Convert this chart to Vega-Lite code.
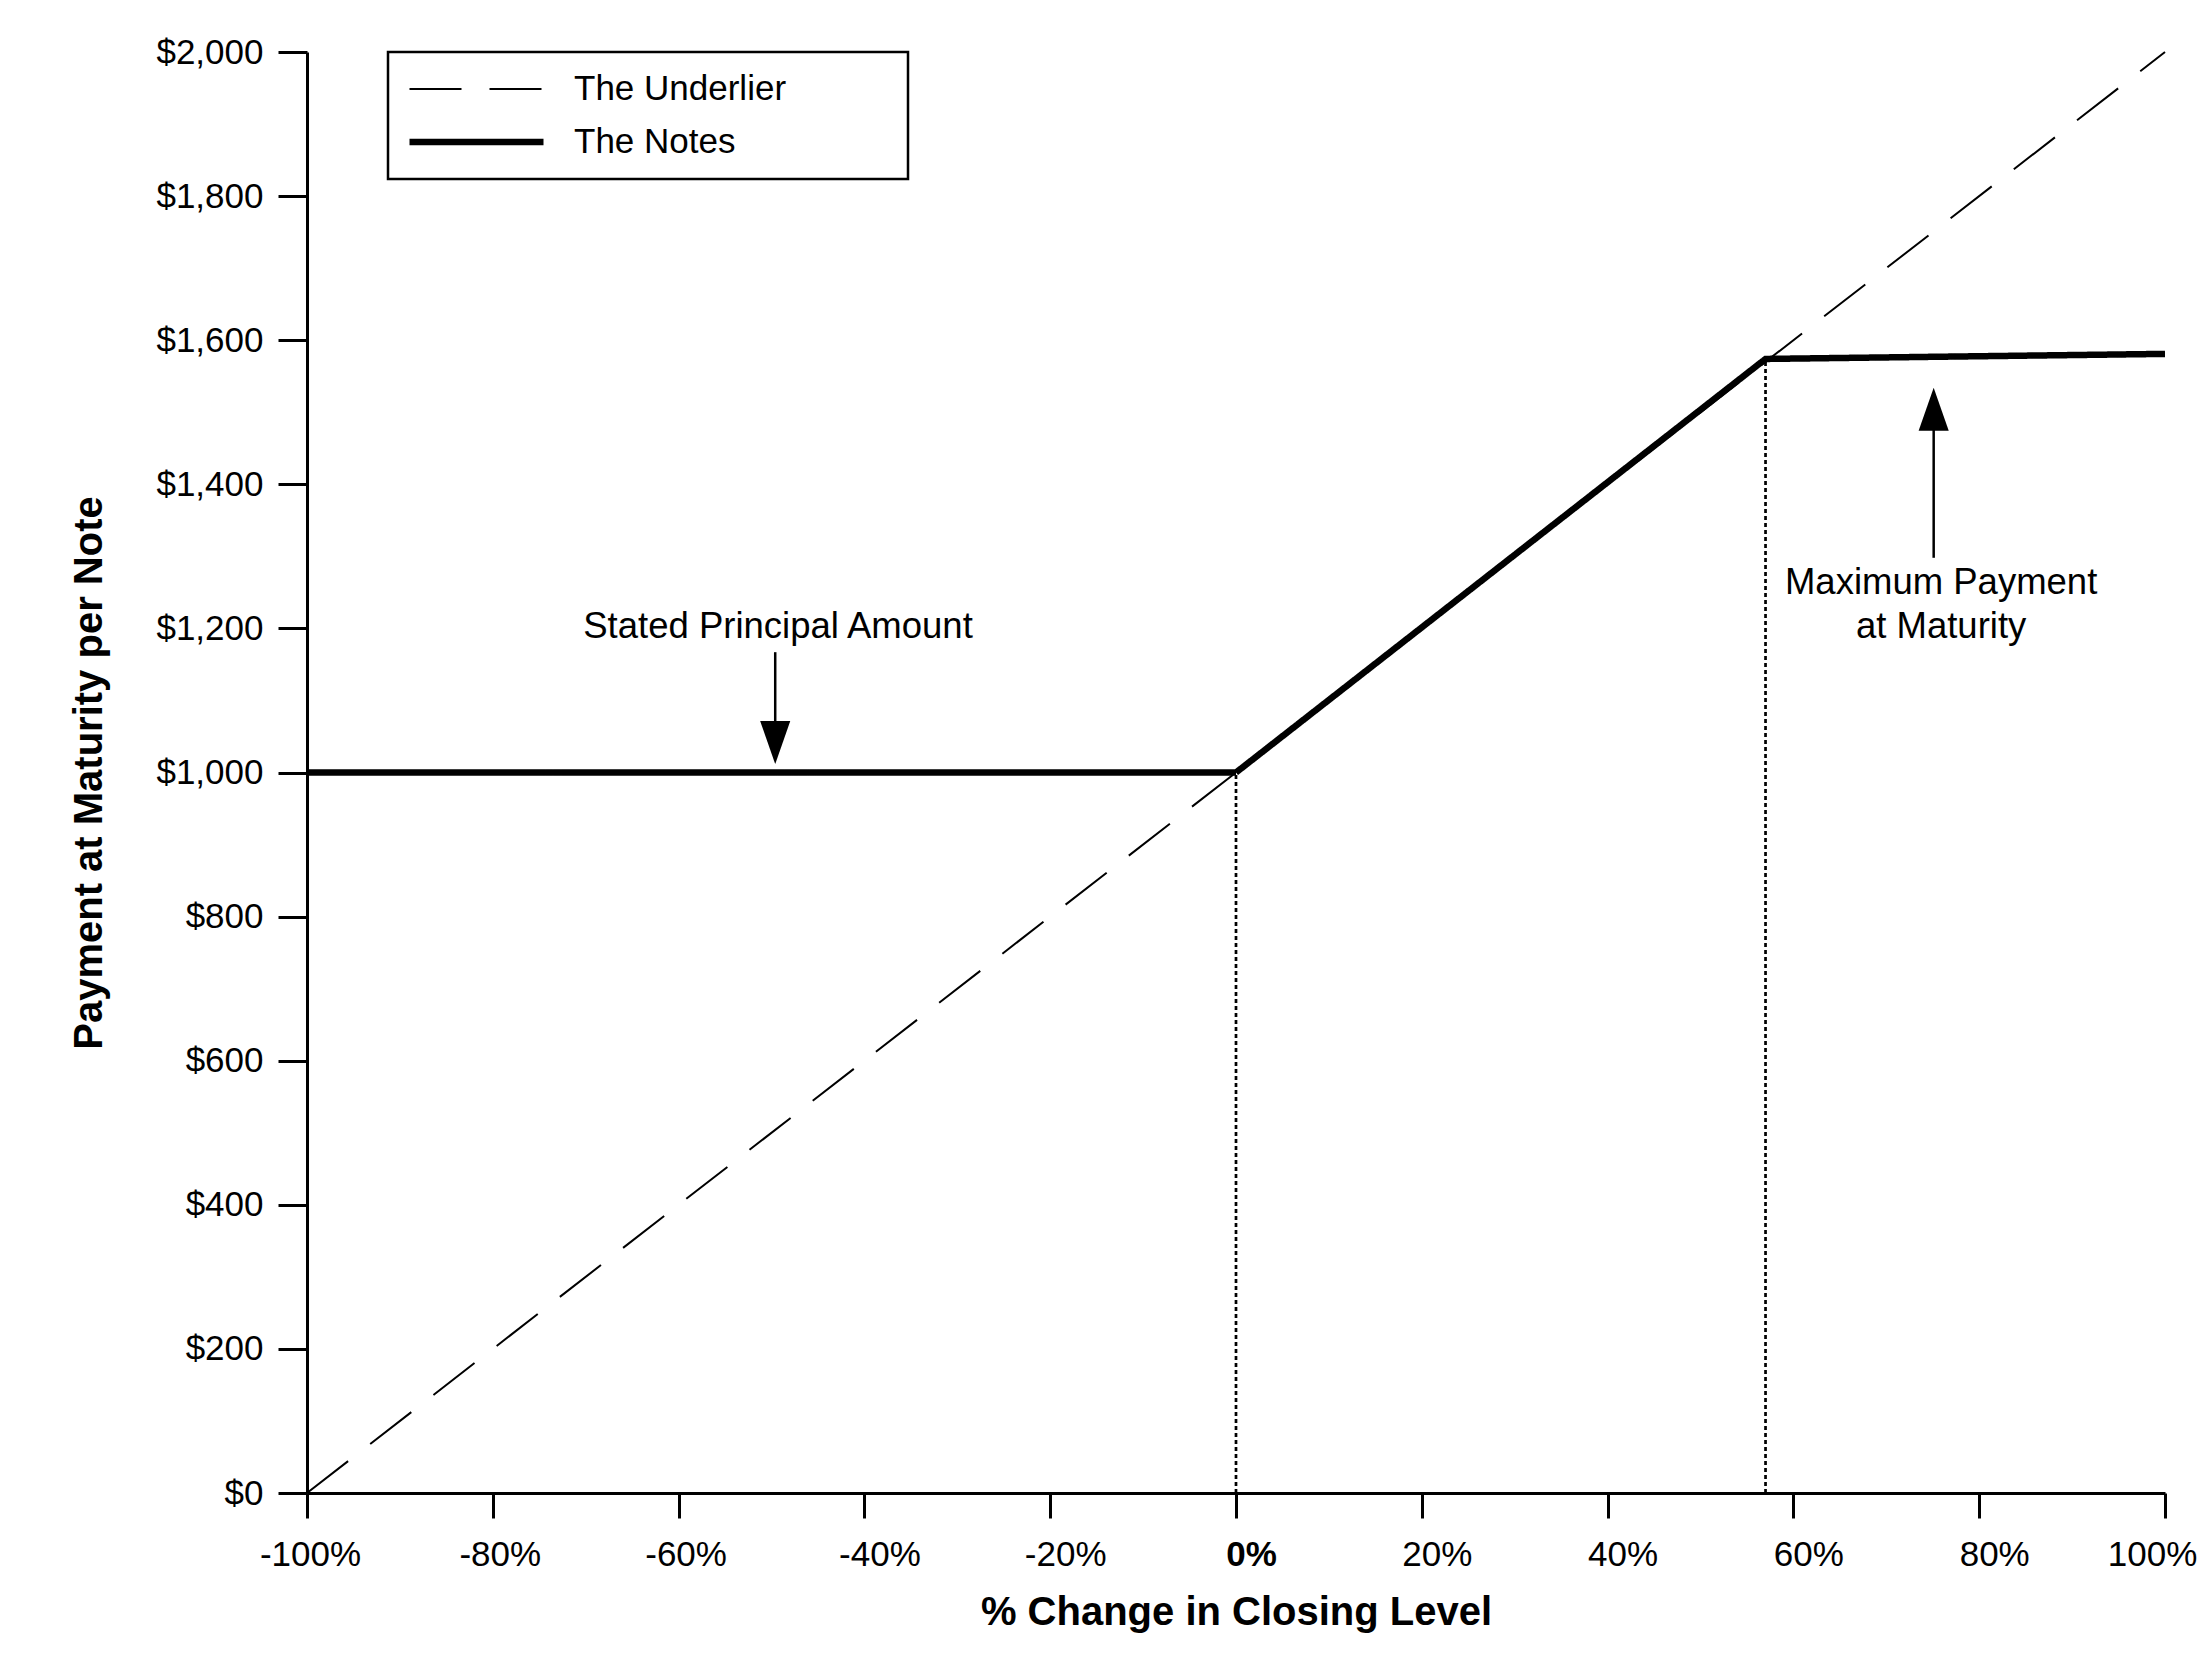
{
  "$schema": "https://vega.github.io/schema/vega-lite/v6.json",
  "width": 1858,
  "height": 1441,
  "autosize": {"type": "none"},
  "padding": {"left": 307, "top": 52, "right": 39, "bottom": 171},
  "background": "white",
  "config": {
    "font": "Liberation Sans",
    "view": {"stroke": null},
    "axis": {"grid": false}
  },
  "datasets": {
    "lines": [
      {"series": "The Underlier", "x": -100, "y": 0},
      {"series": "The Underlier", "x": 100, "y": 2000},
      {"series": "The Notes", "x": -100, "y": 1000},
      {"series": "The Notes", "x": 0, "y": 1000},
      {"series": "The Notes", "x": 57, "y": 1574},
      {"series": "The Notes", "x": 100, "y": 1581}
    ],
    "dotted": [
      {"x": 0, "y": 0, "y2": 1000},
      {"x": 57, "y": 0, "y2": 1574}
    ],
    "shafts": [
      {"x": -49.6, "y": 1167, "y2": 1065},
      {"x": 75.1, "y": 1298, "y2": 1480}
    ],
    "heads": [
      {"x": -49.6, "y": 1041.5, "dir": "down"},
      {"x": 75.1, "y": 1504, "dir": "up"}
    ],
    "notes": [
      {"x": -49.3, "y": 1186, "text": "Stated Principal Amount"},
      {"x": 75.9, "y": 1248, "text": "Maximum Payment"},
      {"x": 75.9, "y": 1187, "text": "at Maturity"}
    ]
  },
  "encoding": {
    "x": {
      "field": "x",
      "type": "quantitative",
      "scale": {"domain": [-100, 100], "nice": false, "zero": false},
      "axis": {
        "title": "% Change in Closing Level",
        "titleFontSize": 40,
        "titleFontWeight": "bold",
        "titleColor": "black",
        "titleBaseline": "alphabetic",
        "titleY": 131,
        "values": [-100, -80, -60, -40, -20, 0, 20, 40, 60, 80, 100],
        "labelExpr": "datum.value + '%'",
        "labelFontSize": 35,
        "labelColor": "black",
        "labelFontWeight": {"condition": {"test": "datum.value === 0", "value": "bold"}, "value": "normal"},
        "labelOffset": {"expr": "datum.value === 100 ? -13 : datum.value === -100 ? 3 : datum.value < -50 ? 7 : 15"},
        "labelBaseline": "alphabetic",
        "labelPadding": 47,
        "labelFlush": false,
        "labelOverlap": false,
        "labelBound": false,
        "domainColor": "black",
        "domainWidth": 3,
        "tickColor": "black",
        "tickWidth": 3,
        "tickSize": 25
      }
    },
    "y": {
      "field": "y",
      "type": "quantitative",
      "scale": {"domain": [0, 2000], "nice": false},
      "axis": {
        "title": "Payment at Maturity per Note",
        "titleFontSize": 40,
        "titleFontWeight": "bold",
        "titleColor": "black",
        "titleAngle": -90,
        "titleAlign": "center",
        "titleBaseline": "middle",
        "titleX": -218,
        "titleY": 720.5,
        "values": [0, 200, 400, 600, 800, 1000, 1200, 1400, 1600, 1800, 2000],
        "format": "$,d",
        "labelFontSize": 35,
        "labelColor": "black",
        "labelPadding": 15,
        "labelOverlap": false,
        "labelBound": false,
        "domainColor": "black",
        "domainWidth": 3,
        "tickColor": "black",
        "tickWidth": 3,
        "tickSize": 29
      }
    }
  },
  "layer": [
    {
      "data": {"name": "dotted"},
      "mark": {"type": "rule", "color": "black", "strokeWidth": 2.7, "strokeDash": [4, 3]},
      "encoding": {"y2": {"field": "y2"}}
    },
    {
      "data": {"name": "lines"},
      "mark": {"type": "line", "color": "black"},
      "encoding": {
        "strokeDash": {
          "field": "series",
          "type": "nominal",
          "scale": {"domain": ["The Underlier", "The Notes"], "range": [[52, 28], [1, 0]]},
          "legend": {
            "title": ".",
            "titleOrient": "right",
            "titleFontSize": 6,
            "titleColor": "white",
            "titlePadding": 108,
            "orient": "none",
            "legendX": 81,
            "legendY": 0,
            "padding": 12,
            "strokeColor": "black",
            "clipHeight": 50,
            "rowPadding": 3,
            "symbolType": "stroke",
            "symbolSize": 17956,
            "symbolStrokeColor": "black",
            "symbolOffset": 6,
            "labelOffset": 27,
            "labelFontSize": 35,
            "labelColor": "black",
            "labelLimit": 2000,
            "encode": {"legend": {"update": {"strokeWidth": {"value": 2.5}}}}
          }
        },
        "strokeWidth": {
          "field": "series",
          "type": "nominal",
          "scale": {"domain": ["The Underlier", "The Notes"], "range": [2, 6.5]},
          "legend": {
            "title": ".",
            "titleOrient": "right",
            "titleFontSize": 6,
            "titleColor": "white",
            "titlePadding": 108,
            "orient": "none",
            "legendX": 81,
            "legendY": 0,
            "padding": 12,
            "strokeColor": "black",
            "clipHeight": 50,
            "rowPadding": 3,
            "symbolType": "stroke",
            "symbolSize": 17956,
            "symbolStrokeColor": "black",
            "symbolOffset": 6,
            "labelOffset": 27,
            "labelFontSize": 35,
            "labelColor": "black",
            "labelLimit": 2000,
            "encode": {"legend": {"update": {"strokeWidth": {"value": 2.5}}}}
          }
        }
      }
    },
    {
      "data": {"name": "shafts"},
      "mark": {"type": "rule", "color": "black", "strokeWidth": 2.5},
      "encoding": {"y2": {"field": "y2"}}
    },
    {
      "data": {"name": "heads"},
      "mark": {"type": "point", "filled": true, "color": "black", "opacity": 1, "size": 1849, "strokeWidth": 0},
      "encoding": {
        "shape": {
          "field": "dir",
          "type": "nominal",
          "scale": {"domain": ["down", "up"], "range": ["M-0.7,-1L0.7,-1L0,1Z", "M-0.7,1L0.7,1L0,-1Z"]},
          "legend": null
        }
      }
    },
    {
      "data": {"name": "notes"},
      "mark": {"type": "text", "color": "black", "fontSize": 36.5, "align": "center", "baseline": "alphabetic"},
      "encoding": {"text": {"field": "text"}}
    }
  ]
}
